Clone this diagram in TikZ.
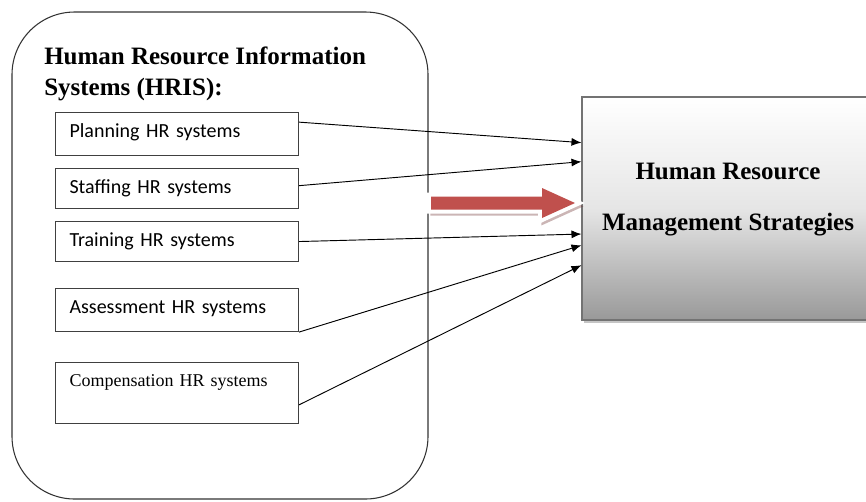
\documentclass[tikz,border=0pt]{standalone}
\usepackage{fontspec}
\setmainfont{Liberation Serif}
\newfontfamily\carlito{Carlito}
\usetikzlibrary{calc,shadows,arrows.meta}

\definecolor{arrowred}{HTML}{C0504D}

\tikzset{
  hrbox/.style={draw=black!75, line width=0.8pt, anchor=north west,
    inner xsep=10.5pt, inner ysep=0pt, text width=161.25pt, align=left,
    text height=18.75pt, text depth=13.5pt,
    font=\carlito\fontsize{15}{18}\selectfont},
  feed/.style={-{Latex[length=7.5pt,width=6pt]}, line width=0.7pt},
  bigarrow/.style={fill=arrowred, line join=miter,
    drop shadow={shadow xshift=1.5pt, shadow yshift=-2.5pt, fill=arrowred!55!black,
      draw=arrowred!55!black, line width=4pt, opacity=0.35},
    preaction={draw=white, line width=6pt}},
}

\begin{document}
\begin{tikzpicture}[x=0.75pt,y=-0.75pt]
\useasboundingbox (0,0) rectangle (866,501);

% HRIS side
\node[draw=black!80, line width=0.8pt, rounded corners=47pt,
  minimum width=312pt, minimum height=365.25pt] (hris) at (220,255.5) {};
\node[anchor=base west, inner sep=0pt, align=left,
  font=\fontsize{18.75}{23.25}\selectfont\bfseries] (hristitle) at (44,95)
  {Human Resource Information\\Systems (HRIS):};

\node[hrbox] (plan) at (55,112) {Planning HR systems};
\node[hrbox, text depth=11.25pt] (staff) at (55,168) {Staffing HR systems};
\node[hrbox, text depth=11.25pt] (train) at (55,221) {Training HR systems};
\node[hrbox] (assess) at (55,288) {Assessment HR systems};
\node[hrbox, text height=18pt, text depth=27.75pt,
  font=\fontsize{13.5}{16}\selectfont] (comp) at (55,362) {Compensation HR systems};

% HRM side
\node[draw=black!55, line width=0.8pt, top color=white, bottom color=black!40,
  middle color=black!10,
  drop shadow={shadow xshift=1.5pt, shadow yshift=-2pt, fill=black!45},
  minimum width=219pt, minimum height=167.25pt, align=center,
  text depth=18pt, font=\fontsize{18.75}{38.25}\selectfont\bfseries]
  (hrm) at (728,208.5) {Human Resource\\Management Strategies};

% links
\draw[feed] ($(plan.north east)!0.23!(plan.south east)$) -- ($(hrm.north west)!0.206!(hrm.south west)$);
\draw[feed] ($(staff.north east)!0.43!(staff.south east)$) -- ($(hrm.north west)!0.291!(hrm.south west)$);
\draw[feed] (train.east) -- ($(hrm.north west)!0.614!(hrm.south west)$);
\draw[feed] (assess.south east) -- ($(hrm.north west)!0.664!(hrm.south west)$);
\draw[feed] ($(comp.north east)!0.69!(comp.south east)$) -- ($(hrm.north west)!0.753!(hrm.south west)$);

\path[bigarrow] (431,196.5) -- (542,196.5) -- (542,188) -- (575,203)
  -- (542,218) -- (542,209.5) -- (431,209.5) -- cycle;
\end{tikzpicture}
\end{document}
